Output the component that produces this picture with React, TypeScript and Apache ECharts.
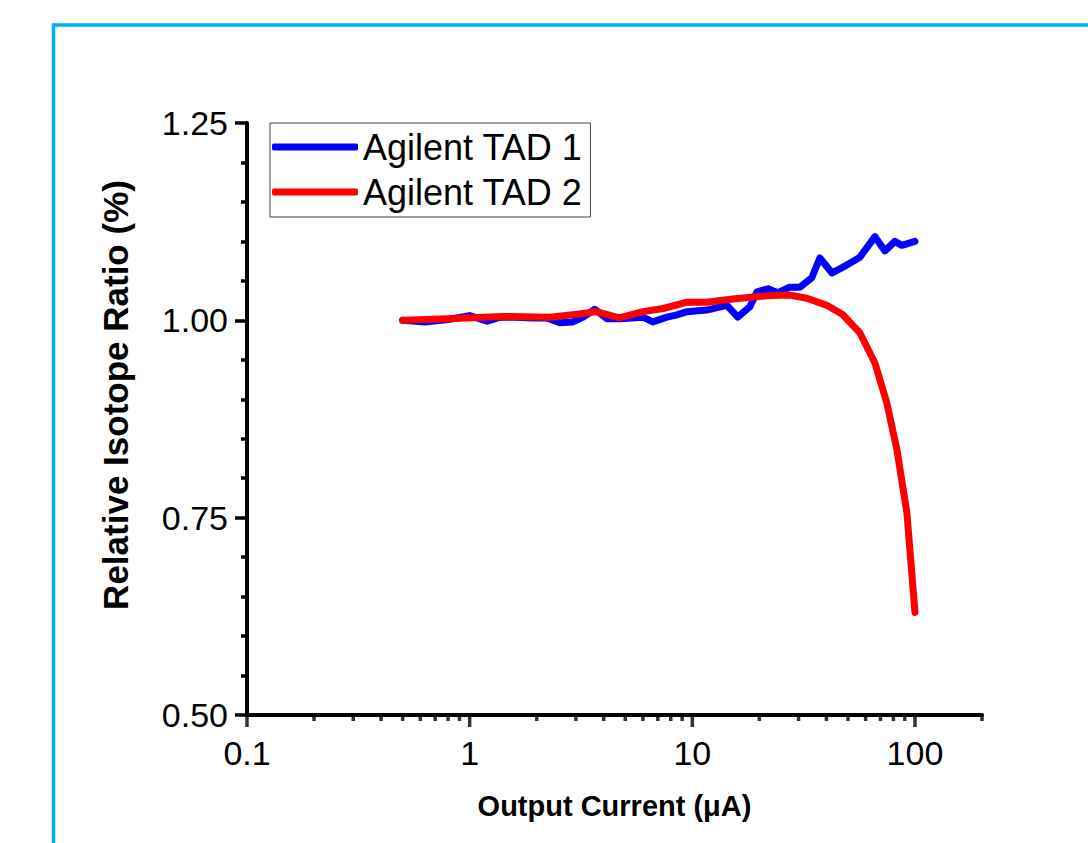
import React, { useEffect, useRef } from 'react';
import * as echarts from 'echarts';

type EChartsOption = echarts.EChartsOption;

// Agilent TAD 1 (blue)
const tad1Current = [
  0.5, 0.63, 0.8, 1.0, 1.2, 1.37, 1.6, 1.9, 2.22, 2.54, 2.91, 3.23, 3.65, 4.14, 4.73, 6.0, 6.65, 7.69,
  8.53, 9.46, 11.6, 14.3, 16.0, 18.1, 19.5, 21.9, 24.2, 27.4, 30.4, 34.4, 37.4, 42.4, 49.4, 56.6,
  66.1, 73.3, 81.2, 87.3, 100,
];
const tad1Ratio = [
  1.0, 0.998, 1.001, 1.006, 0.999, 1.004, 1.004, 1.003, 1.003, 0.997, 0.998, 1.004, 1.014, 1.002,
  1.002, 1.004, 0.998, 1.004, 1.007, 1.011, 1.013, 1.019, 1.004, 1.017, 1.036, 1.04, 1.035, 1.042,
  1.042, 1.054, 1.079, 1.06, 1.07, 1.08, 1.106, 1.088, 1.1, 1.095, 1.1,
];

// Agilent TAD 2 (red)
const tad2Current = [
  0.5, 0.8, 1.4, 2.3, 3.1, 3.7, 4.7, 6.0, 7.4, 9.5, 11.6, 15.2, 21.5, 27.4, 32.7, 40.2, 47.5, 56.6,
  66.1, 74.8, 83, 92, 100,
];
const tad2Ratio = [
  1.0, 1.002, 1.005, 1.004, 1.008, 1.011, 1.003, 1.011, 1.015, 1.023, 1.023, 1.027, 1.031, 1.032,
  1.028, 1.019, 1.007, 0.984, 0.946, 0.895, 0.836, 0.756, 0.63,
];

const xMajorTicks = [0.1, 1, 10, 100];
const xMinorTicks = [
  0.2, 0.3, 0.4, 0.5, 0.6, 0.7, 0.8, 0.9, 2, 3, 4, 5, 6, 7, 8, 9, 20, 30, 40, 50, 60, 70, 80, 90, 200,
];

const Y_MIN = 0.5;
const FONT = '"Liberation Sans", Arial, sans-serif';

const App: React.FC = () => {
  const chartRef = useRef<HTMLDivElement | null>(null);

  useEffect(() => {
    if (!chartRef.current) return;
    const myChart = echarts.init(chartRef.current, undefined, { renderer: 'svg' });

    const option: EChartsOption = {
      animation: false,
      backgroundColor: '#ffffff',
      textStyle: { fontFamily: FONT },
      graphic: [
        {
          type: 'rect',
          shape: { x: 53.5, y: 25, width: 1200, height: 1000 },
          style: { fill: 'none', stroke: '#00B0F0', lineWidth: 3.5 },
          silent: true,
        },
      ],
      legend: {
        data: ['Agilent TAD 1', 'Agilent TAD 2'],
        orient: 'vertical',
        left: 270,
        top: 123,
        padding: [5, 8, 6, 2],
        itemGap: 7,
        itemWidth: 86,
        itemHeight: 7,
        icon: 'roundRect',
        borderColor: '#444',
        borderWidth: 1,
        textStyle: { fontSize: 36, color: '#000', fontFamily: FONT, lineHeight: 38 },
      },
      grid: { left: 247, top: 123, width: 735, height: 592, containLabel: false },
      xAxis: {
        type: 'log',
        logBase: 10,
        min: 0.1,
        max: 200,
        name: 'Output Current (μA)',
        nameLocation: 'middle',
        nameGap: 76,
        nameTextStyle: { fontSize: 29, fontWeight: 'bold', color: '#000', fontFamily: FONT },
        axisLine: { lineStyle: { color: '#000', width: 4 } },
        axisTick: { show: false },
        splitLine: { show: false },
        axisLabel: {
          fontSize: 34,
          color: '#000',
          margin: 21,
          showMaxLabel: false,
          formatter: (v: number) => (xMajorTicks.some((t) => Math.abs(t - v) < 1e-9) ? String(v) : ''),
        },
      },
      yAxis: {
        type: 'value',
        min: Y_MIN,
        max: 1.25,
        interval: 0.25,
        name: 'Relative Isotope Ratio (%)',
        nameLocation: 'middle',
        nameGap: 114,
        nameRotate: 90,
        nameTextStyle: {
          fontSize: 35,
          fontWeight: 'bold',
          color: '#000',
          fontFamily: FONT,
          padding: [0, 0, 0, 48],
        },
        axisLine: { show: true, lineStyle: { color: '#000', width: 4 } },
        axisTick: { show: true, length: 12, lineStyle: { color: '#000', width: 3.5 } },
        minorTick: { show: true, splitNumber: 5, length: 6, lineStyle: { color: '#000', width: 3.5 } },
        splitLine: { show: false },
        axisLabel: {
          fontSize: 34,
          color: '#000',
          margin: 19,
          formatter: (v: number) => v.toFixed(2),
        },
      },
      series: [
        {
          name: 'Agilent TAD 1',
          type: 'line',
          data: tad1Current.map((x, i) => [x, tad1Ratio[i]]),
          showSymbol: false,
          symbol: 'none',
          color: '#0000FF',
          lineStyle: { color: '#0000FF', width: 7, cap: 'round', join: 'round' },
          z: 3,
        },
        {
          name: 'Agilent TAD 2',
          type: 'line',
          data: tad2Current.map((x, i) => [x, tad2Ratio[i]]),
          showSymbol: false,
          symbol: 'none',
          color: '#FF0000',
          lineStyle: { color: '#FF0000', width: 7, cap: 'round', join: 'round' },
          z: 4,
        },
        {
          name: 'xMajorTick',
          type: 'scatter',
          data: xMajorTicks.map((x) => [x, Y_MIN]),
          symbol: 'rect',
          symbolSize: [3.5, 12],
          symbolOffset: [0, 6],
          itemStyle: { color: '#000' },
          clip: false,
          silent: true,
          z: 5,
        },
        {
          name: 'xMinorTick',
          type: 'scatter',
          data: xMinorTicks.map((x) => [x, Y_MIN]),
          symbol: 'rect',
          symbolSize: [3.5, 6],
          symbolOffset: [0, 3],
          itemStyle: { color: '#000' },
          clip: false,
          silent: true,
          z: 5,
        },
      ],
    };

    myChart.setOption(option);
    return () => {
      myChart.dispose();
    };
  }, []);

  return (
    <div
      ref={chartRef}
      style={{ position: 'fixed', left: 0, top: 0, width: '1088px', height: '843px', background: '#fff' }}
    />
  );
};

export default App;
